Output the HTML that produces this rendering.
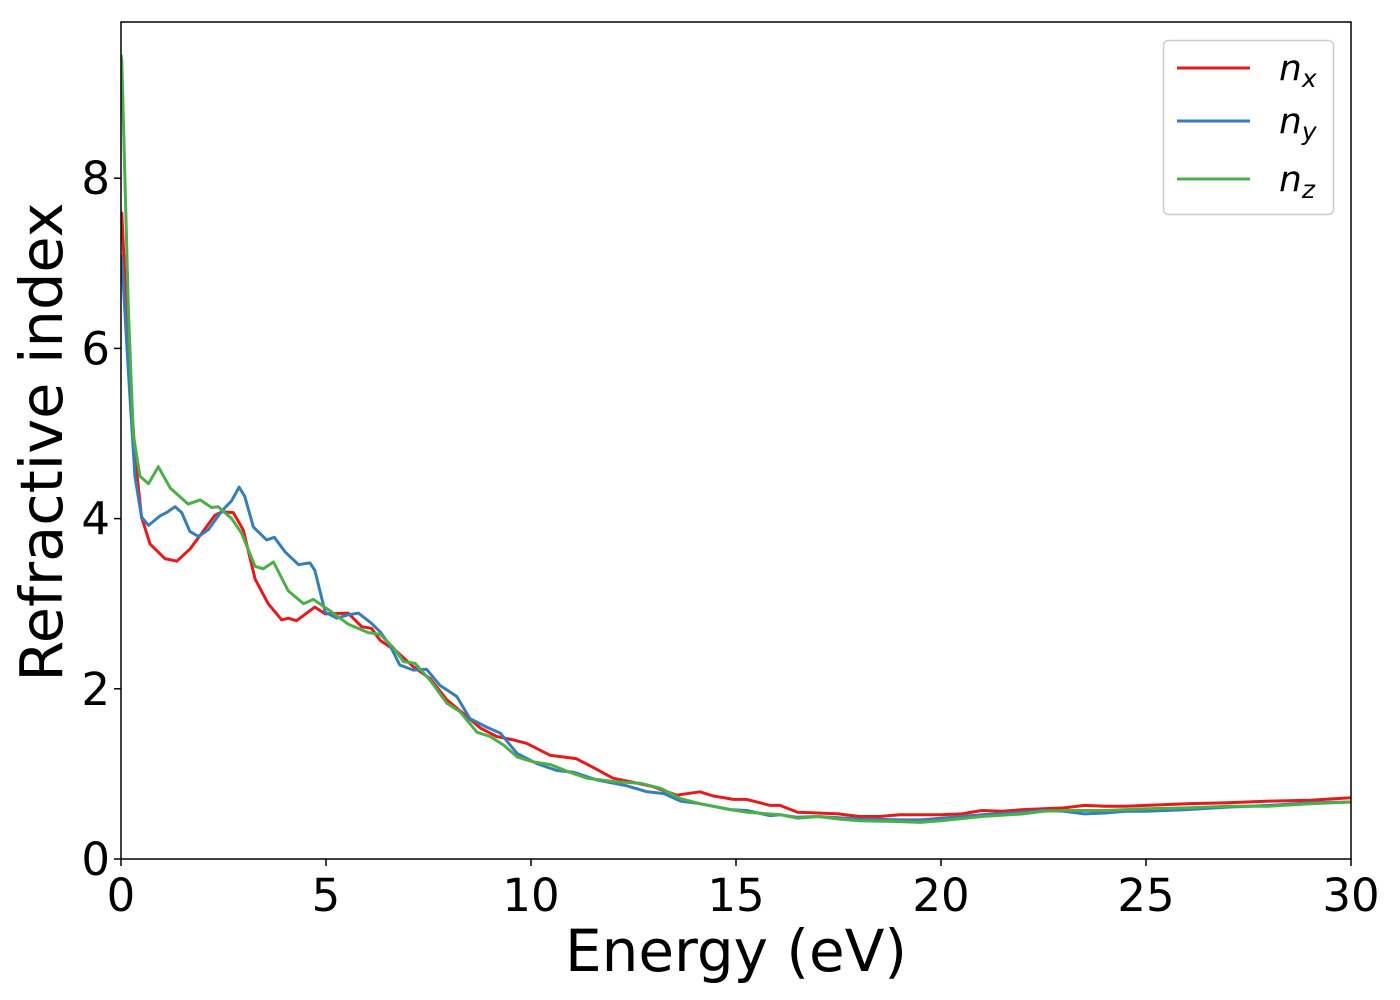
<!DOCTYPE html>
<html><head><meta charset="utf-8"><style>
html,body{margin:0;padding:0;background:#fff;}
svg{display:block;font-family:"DejaVu Sans","Liberation Sans",sans-serif;}
</style></head><body>
<svg id="chart" width="1400" height="1000">
<rect x="0" y="0" width="1400" height="1000" fill="#fff"/>
<defs><clipPath id="clip"><rect x="121" y="22" width="1230" height="837"/></clipPath></defs>
<g id="series" clip-path="url(#clip)"></g>
<rect x="121" y="22" width="1230" height="837" fill="none" stroke="#000" stroke-width="1.5"/>
<g id="xticks"></g><g id="yticks"></g>
<text x="736" y="971" font-size="58" text-anchor="middle">Energy (eV)</text>
<text transform="translate(62,442) rotate(-90)" font-size="59" text-anchor="middle">Refractive index</text>
<g>
<rect x="1163.5" y="40.5" width="170" height="174" rx="5" fill="#fff" stroke="#ccc" stroke-width="1.5"/>
<g><line x1="1177" y1="68" x2="1250" y2="68" stroke="#e41a1c" stroke-width="3"/><text x="1279" y="80" font-size="36" font-style="italic">n<tspan font-size="25" dy="7">x</tspan></text></g>
<g><line x1="1177" y1="121" x2="1250" y2="121" stroke="#377eb8" stroke-width="3"/><text x="1279" y="133" font-size="36" font-style="italic">n<tspan font-size="25" dy="7">y</tspan></text></g>
<g><line x1="1177" y1="179" x2="1250" y2="179" stroke="#4daf4a" stroke-width="3"/><text x="1279" y="191" font-size="36" font-style="italic">n<tspan font-size="25" dy="7">z</tspan></text></g>
</g>
</svg>
<script>
const xTicks=[0,5,10,15,20,25,30];
const yTicks=[0,2,4,6,8];
const nxE=[0,0.02,0.18,0.34,0.5,0.71,1.07,1.36,1.68,1.97,2.29,2.46,2.74,2.98,3.27,3.59,3.92,4.08,4.28,4.73,4.98,5.54,5.87,6.11,6.32,6.72,7.13,7.54,7.95,8.35,8.76,9.16,9.57,9.89,10.46,11.1,11.5,12.0,12.5,12.98,13.55,14.12,14.45,14.94,15.26,15.83,16.07,16.5,17,17.5,18,18.5,19,20,20.5,21,21.5,22,23,23.5,24,24.5,25,26,27,28,29,30];
const nxV=[7.6,7.59,5.96,4.75,4.02,3.7,3.53,3.5,3.64,3.83,4.04,4.08,4.07,3.87,3.29,3.0,2.81,2.83,2.8,2.96,2.88,2.89,2.73,2.71,2.57,2.44,2.26,2.12,1.87,1.71,1.54,1.44,1.4,1.36,1.22,1.18,1.08,0.95,0.9,0.85,0.75,0.79,0.74,0.7,0.7,0.63,0.63,0.55,0.54,0.53,0.5,0.5,0.52,0.52,0.53,0.57,0.56,0.58,0.6,0.63,0.62,0.62,0.63,0.65,0.66,0.68,0.69,0.72];
const nyE=[0,0.02,0.18,0.34,0.5,0.67,0.95,1.11,1.32,1.48,1.68,1.89,2.13,2.46,2.7,2.88,3.02,3.23,3.55,3.74,4.0,4.33,4.61,4.73,4.98,5.26,5.54,5.79,6.11,6.32,6.56,6.8,7.13,7.45,7.78,8.19,8.51,8.92,9.25,9.66,10.15,10.63,11.04,11.6,12.34,12.83,13.24,13.65,14.12,14.86,15.26,15.83,16.07,16.5,17,18,19,19.5,20,21,22,22.5,23,23.5,24,24.5,25,26,27,28,29,30];
const nyV=[7.1,7.05,5.72,4.5,4.02,3.92,4.03,4.07,4.14,4.07,3.85,3.79,3.87,4.09,4.21,4.37,4.26,3.9,3.75,3.78,3.61,3.46,3.48,3.39,2.9,2.83,2.87,2.89,2.77,2.67,2.51,2.28,2.22,2.23,2.04,1.91,1.65,1.55,1.48,1.24,1.12,1.04,1.02,0.93,0.86,0.79,0.77,0.68,0.65,0.58,0.57,0.51,0.52,0.49,0.5,0.47,0.46,0.46,0.48,0.52,0.55,0.57,0.56,0.53,0.54,0.56,0.56,0.58,0.61,0.63,0.66,0.67];
const nzE=[0,0.02,0.18,0.3,0.46,0.67,0.91,1.2,1.64,1.93,2.21,2.37,2.7,2.94,3.27,3.47,3.72,4.08,4.45,4.69,5.06,5.54,6.03,6.32,6.65,6.89,7.17,7.54,7.95,8.27,8.68,9.0,9.33,9.66,10.06,10.47,10.88,11.37,12.03,12.68,13.17,13.65,14.12,14.86,15.26,16.07,16.5,17,17.5,18,19,19.5,20,21,22,22.5,23,24,25,26,27,28,29,30];
const nzV=[9.45,9.38,6.45,4.99,4.5,4.41,4.61,4.36,4.17,4.22,4.13,4.14,4.0,3.83,3.44,3.41,3.49,3.15,3.0,3.05,2.93,2.76,2.66,2.64,2.48,2.32,2.3,2.1,1.83,1.73,1.49,1.44,1.34,1.2,1.14,1.11,1.03,0.95,0.91,0.89,0.83,0.71,0.65,0.58,0.55,0.52,0.48,0.5,0.47,0.45,0.44,0.43,0.45,0.5,0.53,0.56,0.57,0.57,0.59,0.6,0.62,0.62,0.65,0.67];
const NS='http://www.w3.org/2000/svg';
const X0=121,X1=1351,Y0=859,Y1=22;
function xs(v){return X0+(v-0)/30*(X1-X0);}
function ys(v){return Y0-v*85.1;}
const xg=document.getElementById('xticks');
xTicks.forEach(t=>{
  const l=document.createElementNS(NS,'line');
  l.setAttribute('x1',xs(t));l.setAttribute('x2',xs(t));l.setAttribute('y1',Y0);l.setAttribute('y2',Y0+7);
  l.setAttribute('stroke','#000');l.setAttribute('stroke-width','1.5');
  
  
  xg.appendChild(l);
  const tx=document.createElementNS(NS,'text');
  tx.setAttribute('x',xs(t));tx.setAttribute('y',Y0+52);tx.setAttribute('font-size','45');tx.setAttribute('text-anchor','middle');
  tx.textContent=t;
  
  
  xg.appendChild(tx);
});
const yg=document.getElementById('yticks');
yTicks.forEach(t=>{
  const l=document.createElementNS(NS,'line');
  l.setAttribute('x1',X0-7);l.setAttribute('x2',X0);l.setAttribute('y1',ys(t));l.setAttribute('y2',ys(t));
  l.setAttribute('stroke','#000');l.setAttribute('stroke-width','1.5');
  
  
  yg.appendChild(l);
  const tx=document.createElementNS(NS,'text');
  tx.setAttribute('x',X0-11);tx.setAttribute('y',ys(t)+16);tx.setAttribute('font-size','45');tx.setAttribute('text-anchor','end');
  tx.textContent=t;
  
  
  yg.appendChild(tx);
});
const sg=document.getElementById('series');
function draw(E,V,color,name){
  const p=document.createElementNS(NS,'polyline');
  p.setAttribute('points',E.map((e,i)=>xs(e).toFixed(1)+','+ys(V[i]).toFixed(1)).join(' '));
  p.setAttribute('fill','none');p.setAttribute('stroke',color);p.setAttribute('stroke-width','3');
  p.setAttribute('stroke-linejoin','round');
  
  
  sg.appendChild(p);
}
draw(nxE,nxV,'#e41a1c','nx-line');
draw(nyE,nyV,'#377eb8','ny-line');
draw(nzE,nzV,'#4daf4a','nz-line');
</script>
</body></html>
